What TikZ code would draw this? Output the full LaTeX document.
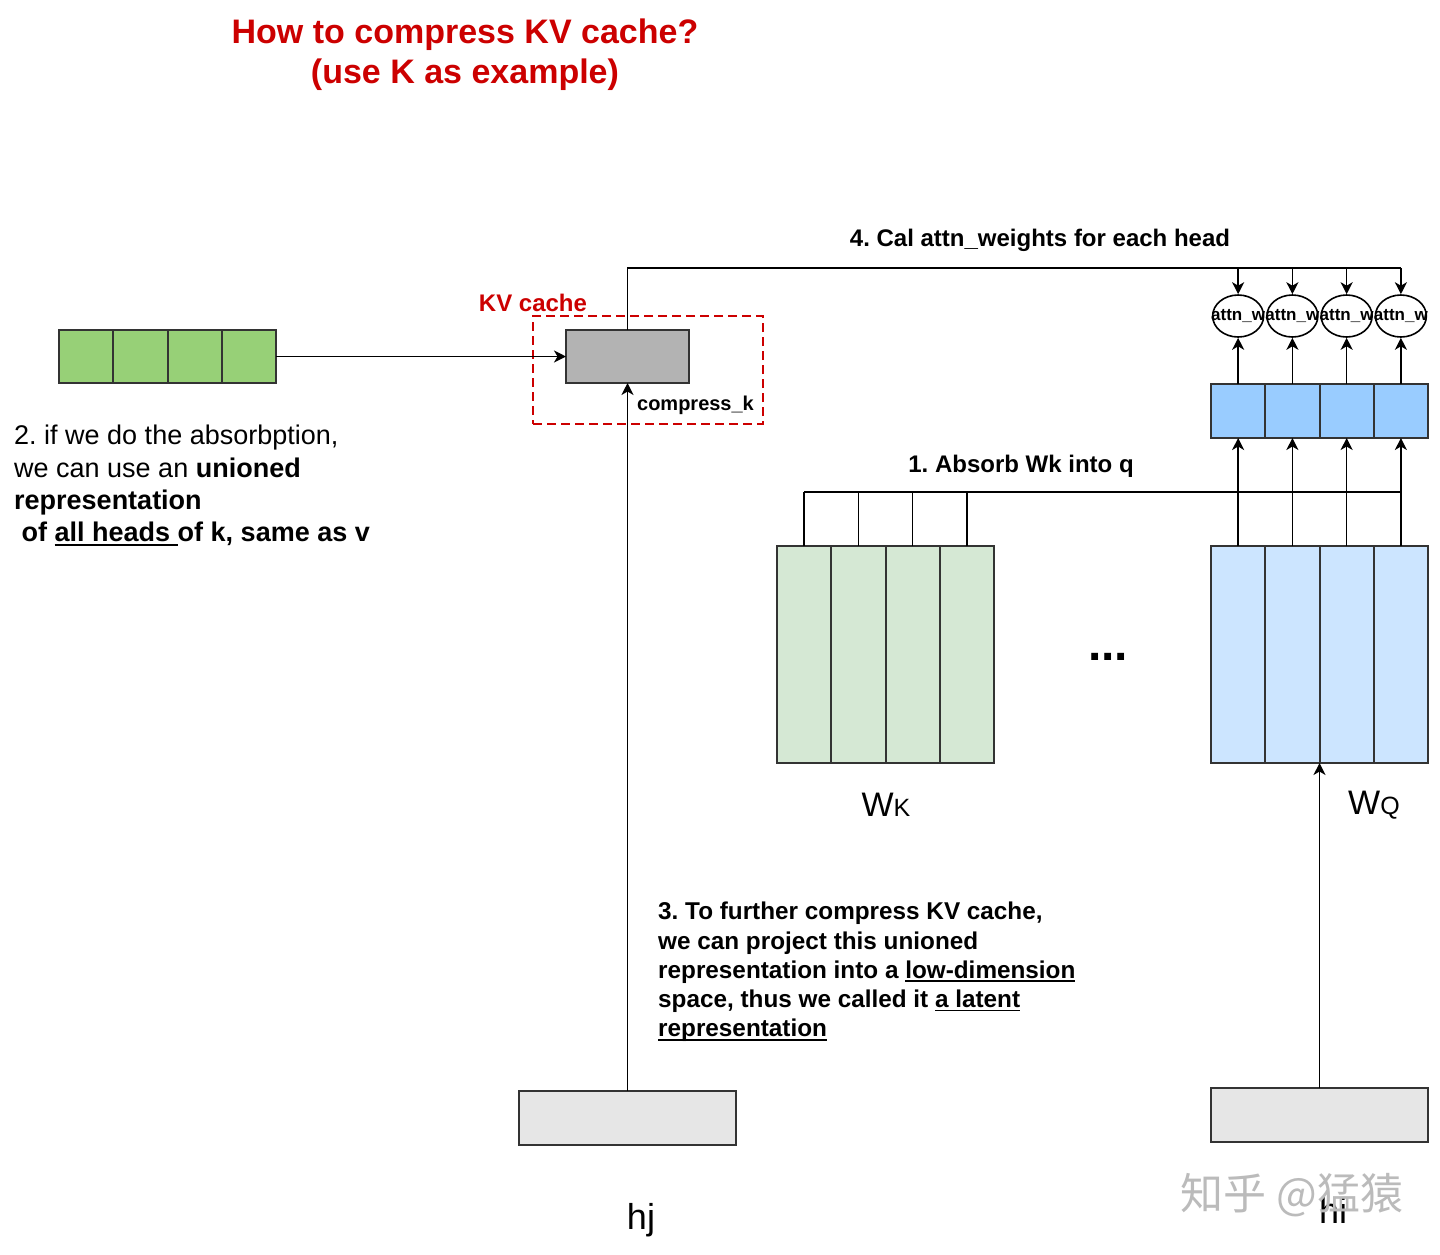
\documentclass[tikz,border=0pt]{standalone}
\usepackage{fontspec}
\setmainfont{Liberation Sans}
\newfontfamily\cjkwm{Noto Sans CJK SC}
\usetikzlibrary{arrows.meta,shapes.geometric}
\frenchspacing
\newcommand\myfs[2]{\fontsize{#1}{#2}\selectfont}
\newcommand\myul[1]{\setbox0\hbox{#1}\rlap{\rule[-4pt]{\wd0}{1.8pt}}\box0}
\definecolor{cred}{HTML}{CC0000}
\definecolor{cgreen}{HTML}{97D077}
\definecolor{cgray}{HTML}{B3B3B3}
\definecolor{cblue}{HTML}{99CCFF}
\definecolor{cwk}{HTML}{D5E8D4}
\definecolor{cwq}{HTML}{CCE5FF}
\definecolor{cin}{HTML}{E6E6E6}
\definecolor{cborder}{HTML}{333333}
\definecolor{cwm}{HTML}{BBBBBB}
\begin{document}
\begin{tikzpicture}[x=1pt,y=-1pt,
  box/.style={draw=cborder, line width=2pt, inner sep=0pt, outer sep=0pt},
  conn/.style={draw=black, line width=1.7pt},
  arr/.style={conn, -{Stealth[length=12pt,width=12pt,inset=3.5pt]}},
  lbl/.style={inner sep=0pt, text=black},
  ell/.style={ellipse, draw=black, line width=1.6pt, fill=white, minimum width=51pt, minimum height=42pt, inner sep=0pt, font=\myfs{17}{17}\bfseries}
]
\useasboundingbox (0,0) rectangle (1440,1254);
\fill[white] (0,0) rectangle (1440,1254);

% title
\node[lbl, align=center, text=cred, font=\myfs{34}{40}\bfseries] (title) at (465,55) {How to compress KV cache?\\(use K as example)};

% green row
\foreach \i in {1,...,4}
  \node[box, fill=cgreen, minimum width=54.25pt, minimum height=53pt] (g\i) at ({59+54.25*(\i-0.5)},356.5) {};

% KV cache box
\node[draw=cred, line width=2.2pt, dash pattern=on 9pt off 5pt, minimum width=230pt, minimum height=108pt, inner sep=0pt] (kv) at (648,370) {};
\node[lbl, text=cred, font=\myfs{24}{24}\bfseries] (kvlbl) at (533,303) {KV cache};
\node[box, fill=cgray, minimum width=123pt, minimum height=53pt] (gray) at (627.5,356.5) {};
\node[lbl, font=\myfs{20}{20}\bfseries] (ck) at (695.5,405) {compress\_k};

% attention ellipses, q row, weight matrices
\foreach \i in {1,...,4} {
  \node[ell] (a\i) at ({1211+54.25*(\i-0.5)},316) {\makebox[0pt]{attn\_w}};
  \node[box, fill=cblue, minimum width=54.25pt, minimum height=54pt] (b\i) at ({1211+54.25*(\i-0.5)},411) {};
  \node[box, fill=cwk, minimum width=54.25pt, minimum height=217pt] (k\i) at ({777+54.25*(\i-0.5)},654.5) {};
  \node[box, fill=cwq, minimum width=54.25pt, minimum height=217pt] (q\i) at ({1211+54.25*(\i-0.5)},654.5) {};
}

% inputs
\node[box, fill=cin, minimum width=217pt, minimum height=54pt] (hj) at (627.5,1118) {};
\node[box, fill=cin, minimum width=217pt, minimum height=54pt] (hi) at (1319.5,1115) {};

% connectors
\draw[arr] (g4.east) -- (gray.west);
\coordinate (busR) at (1400.9,268);
\draw[conn] (gray.north) |- (busR);
\foreach \i in {1,...,4} {
  \draw[arr] (a\i.north |- busR) -- (a\i.north);
  \draw[arr] (b\i.north) -- (a\i.south);
  \draw[arr] (q\i.north) -- (b\i.south);
}
\coordinate (absorb) at (0,492);
\draw[conn] (k1.north |- absorb) -- (q4.north |- absorb);
\foreach \i in {1,...,4}
  \draw[conn] (k\i.north) -- (k\i.north |- absorb);
\draw[arr] (hj.north) -- (gray.south);
\draw[arr] (hi.north) -- (q3.south west);

% labels
\node[lbl, font=\myfs{24}{24}\bfseries] (l4) at (1040,240) {4. Cal attn\_weights for each head};
\node[lbl, font=\myfs{24}{24}\bfseries] (l1) at (1021,466) {1. Absorb Wk into q};
\node[lbl, font=\myfs{48}{48}\bfseries] (dots) at (1108,657) {...};
\node[lbl, font=\myfs{34}{34}] (wk) at (886,805) {W{\myfs{25}{25}K}};
\node[lbl, font=\myfs{34}{34}] (wq) at (1374,805) {W{\myfs{25}{25}Q}};
\node[lbl, font=\myfs{36}{36}] (hjl) at (641,1220) {hj};
\node[lbl, font=\myfs{36}{36}] (hil) at (1333,1210) {hi};

\node[lbl, anchor=north west, align=left, font=\myfs{27}{32.3}] (l2) at (14,425)
  {2. if we do the absorbption,\\we can use an \textbf{unioned}\\\textbf{representation}\\\textbf{\ of \myul{all heads\ }of k, same as v}};

\node[lbl, anchor=north west, align=left, font=\myfs{24.3}{29.2}\bfseries] (l3) at (658,902)
  {3. To further compress KV cache,\\we can project this unioned\\representation into a \myul{low-dimension}\\space, thus we called it \myul{a latent}\\\myul{representation}};

% watermark
\node[lbl, text=cwm, font=\cjkwm\myfs{43}{43}] (wm) at (1292,1195) {知乎 @猛猿};
\end{tikzpicture}
\end{document}
